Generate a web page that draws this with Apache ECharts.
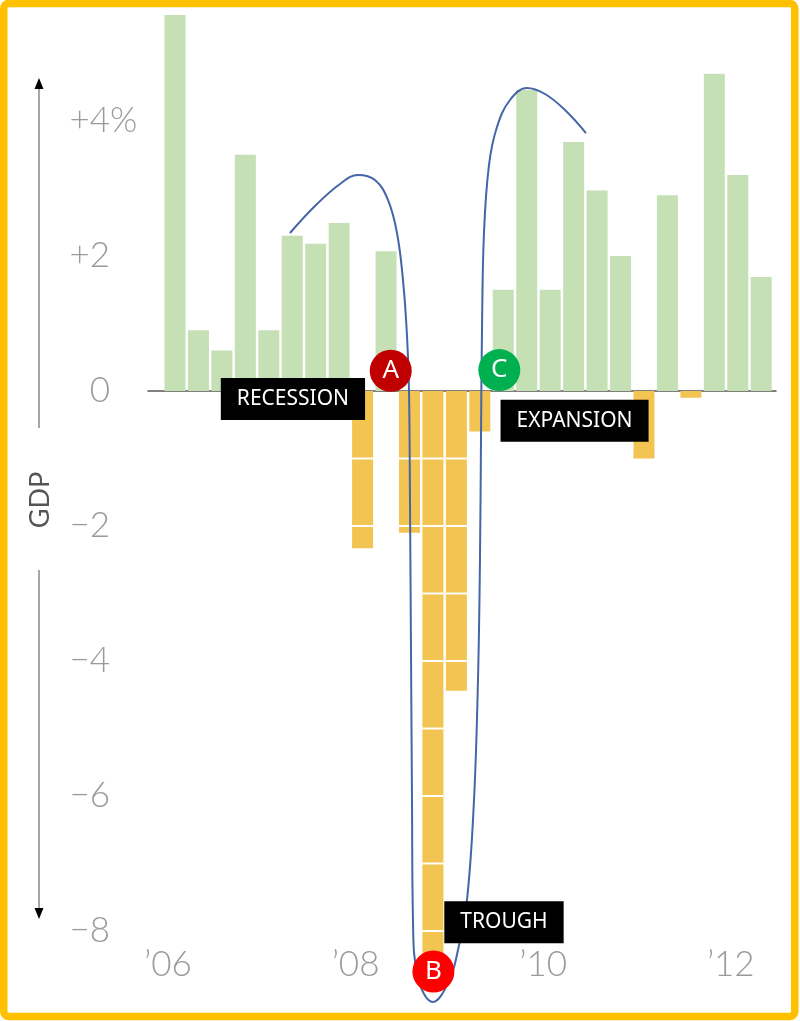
<!DOCTYPE html>
<html>
<head>
<meta charset="utf-8">
<title>GDP</title>
<script src="https://cdn.jsdelivr.net/npm/echarts@6/dist/echarts.min.js"></script>
<style>
    html, body { margin: 0; padding: 0; background: #fff; }
    #gdp_chart { width: 800px; height: 1021px; }
</style>
</head>
<body>
<div id="gdp_chart"></div>
<script>
// quarterly GDP change, 2006 Q1 .. 2012 Q2 (annualised %)
var gdpValues = [5.57, 0.9, 0.6, 3.5, 0.9, 2.3, 2.18, 2.49, -2.33, 2.07, -2.1, -8.4, -4.44,
    -0.6, 1.5, 4.46, 1.5, 3.69, 2.97, 2.0, -1.0, 2.9, -0.1, 4.7, 3.2, 1.69];
// year labels sit on these quarter indexes
var yearIndex = [0, 8, 16, 24];
var yearLabels = ['\u201906', '\u201908', '\u201910', '\u201912'];
var yTicks = [-8, -6, -4, -2, 0, 2, 4];

// hand drawn loop: x in quarter index, y in %
var loopX = [4.904, 5.97, 7.036, 7.804, 8.529, 9.083, 9.467, 9.723, 9.893, 9.979, 10.021, 10.064,
    10.107, 10.149, 10.362, 11.002, 11.684, 12.068, 12.452, 12.751, 12.921, 13.006, 13.049, 13.092,
    13.177, 13.39, 13.731, 14.286, 15.011, 15.778, 16.631, 17.527];
var loopY = [2.341, 2.741, 3.067, 3.2, 3.126, 2.83, 2.341, 1.644, 0.83, 0.015, -1.615, -3.837,
    -6.059, -7.837, -8.696, -9.052, -8.741, -8.281, -7.541, -6.059, -4.281, -2.504, -0.726, 0.904,
    2.341, 3.348, 3.911, 4.311, 4.489, 4.4, 4.163, 3.822];

// circled letters A / B / C
var dotX = [9.2, 11.02, 13.83];
var dotY = [0.3, -8.6, 0.31];
var dotText = ['A', 'B', 'C'];
// black boxes
var tagX = [5.03, 17.04, 14.03];
var tagY = [-0.12, -0.44, -7.87];
var tagText = ['RECESSION', 'EXPANSION', 'TROUGH'];

// tiny stand-in for jQuery's extend, so the file has no other dependency
var $ = {
    extend : function(target) {
        for (var i = 1; i < arguments.length; i++) {
            var src = arguments[i];
            for (var k in src) {
                target[k] = src[k];
            }
        }
        return target;
    }
};

var gdp_chart = {
    chart : null,
    init : function() {
        this.chart = echarts.init(document.getElementById('gdp_chart'), null, { renderer : 'canvas' });
        this.chart.setOption(this.getOption());
    },
    pairs : function(xs, ys) {
        var out = [];
        for (var i = 0; i < xs.length; i++) {
            out.push([xs[i], ys[i]]);
        }
        return out;
    },
    // white cuts at every whole percent on the negative bars
    renderCuts : function(params, api) {
        var i = api.value(0);
        var v = api.value(1);
        var children = [];
        for (var k = -1; k > v + 0.05; k--) {
            var p = api.coord([i, k]);
            children.push({
                type : 'line',
                shape : { x1 : p[0] - 10.5, y1 : p[1], x2 : p[0] + 10.5, y2 : p[1] },
                style : { stroke : '#fff', lineWidth : 2 }
            });
        }
        return { type : 'group', children : children };
    },
    getOption : function() {
        var barData = [];
        for (var i = 0; i < gdpValues.length; i++) {
            barData.push([i, gdpValues[i]]);
        }
        var dotColors = ['#C00000', '#FF0000', '#00B050'];
        var dotData = [];
        for (var d = 0; d < dotX.length; d++) {
            dotData.push({ value : [dotX[d], dotY[d]], name : dotText[d], itemStyle : { color : dotColors[d], opacity : 1 } });
        }
        var tagData = [];
        for (var t = 0; t < tagX.length; t++) {
            tagData.push({ value : [tagX[t], tagY[t]], name : tagText[t] });
        }
        var labelFont = {
            fontFamily : 'Lato',
            fontWeight : 300,
            fontSize : 35,
            color : '#9a9a9a'
        };
        var xMin = -1.151, xMax = 25.63;
        var yMin = -9.2, yMax = 5.6;
        var hidden = {
            axisLine : { show : false },
            axisTick : { show : false },
            splitLine : { show : false }
        };
        return {
            animation : false,
            backgroundColor : '#fff',
            grid : { left : 148, right : 24, top : 13, bottom : 9 },
            xAxis : [ {
                type : 'value',
                min : xMin,
                max : xMax,
                position : 'top',
                axisLine : { show : true, onZero : true, lineStyle : { color : '#555', width : 1.5 } },
                axisTick : { show : false },
                axisLabel : { show : false },
                splitLine : { show : false }
            }, $.extend({
                type : 'value',
                min : xMin,
                max : xMax,
                position : 'bottom',
                axisLabel : $.extend({}, labelFont, {
                    customValues : yearIndex,
                    margin : -47,
                    verticalAlign : 'middle',
                    padding : [ 0, 14, 0, 0 ],
                    formatter : function(v) {
                        var k = yearIndex.indexOf(v);
                        return k < 0 ? '' : yearLabels[k];
                    }
                })
            }, hidden, { axisLine : { show : false, onZero : false } }) ],
            yAxis : [ $.extend({
                type : 'value',
                min : yMin,
                max : yMax,
                position : 'left',
                axisLabel : $.extend({}, labelFont, {
                    customValues : yTicks,
                    margin : 38,
                    formatter : function(v) {
                        if (v > 0) {
                            return '+' + v;
                        }
                        if (v < 0) {
                            return '\u2212' + Math.abs(v);
                        }
                        return '0';
                    }
                })
            }, hidden), $.extend({
                // the % sign hangs past the right edge of the +4 label
                type : 'value',
                min : yMin,
                max : yMax,
                position : 'left',
                axisLabel : $.extend({}, labelFont, {
                    customValues : [ yTicks[yTicks.length - 1] ],
                    margin : 38,
                    align : 'left',
                    formatter : function() {
                        return '%';
                    }
                })
            }, hidden) ],
            series : [ {
                name : 'GDP',
                type : 'bar',
                xAxisIndex : 0,
                barWidth : 21,
                z : 2,
                data : barData,
                itemStyle : {
                    color : function(p) {
                        return p.value[1] < 0 ? '#F2C451' : '#C5E0B4';
                    }
                }
            }, {
                name : 'cuts',
                type : 'custom',
                xAxisIndex : 0,
                z : 3,
                silent : true,
                renderItem : gdp_chart.renderCuts,
                data : barData
            }, {
                name : 'loop',
                type : 'line',
                xAxisIndex : 0,
                z : 4,
                smooth : 0.4,
                symbol : 'none',
                clip : false,
                lineStyle : { color : '#4466A6', width : 2 },
                data : gdp_chart.pairs(loopX, loopY)
            }, {
                name : 'tags',
                type : 'scatter',
                xAxisIndex : 0,
                z : 6,
                symbolSize : 0,
                itemStyle : { opacity : 1 },
                data : tagData,
                label : {
                    show : true,
                    position : 'inside',
                    formatter : '{b}',
                    fontFamily : 'Noto Sans',
                    fontSize : 21,
                    color : '#fff',
                    backgroundColor : '#000',
                    padding : [ 11, 16, 10, 16 ]
                }
            }, {
                name : 'dots',
                type : 'scatter',
                xAxisIndex : 0,
                z : 5,
                symbol : 'circle',
                symbolSize : 42,
                itemStyle : { opacity : 1 },
                data : dotData,
                label : {
                    show : true,
                    position : 'inside',
                    formatter : '{b}',
                    fontFamily : 'Noto Sans',
                    fontSize : 26,
                    color : '#fff'
                }
            } ],
            graphic : [ {
                type : 'rect',
                z : 50,
                silent : true,
                shape : { x : 3.75, y : 3.5, width : 791, height : 1013, r : 5 },
                style : { fill : 'none', stroke : '#FFC000', lineWidth : 7.5 }
            }, {
                type : 'line',
                shape : { x1 : 39, y1 : 86, x2 : 39, y2 : 428 },
                style : { stroke : '#888', lineWidth : 1.5 }
            }, {
                type : 'polygon',
                shape : { points : [ [ 39, 78 ], [ 34.5, 89 ], [ 43.5, 89 ] ] },
                style : { fill : '#000' }
            }, {
                type : 'text',
                x : 40,
                y : 500,
                rotation : Math.PI / 2,
                style : {
                    text : 'GDP',
                    fontFamily : 'Lato',
                    fontSize : 27,
                    fill : '#555',
                    align : 'center',
                    verticalAlign : 'middle'
                }
            }, {
                type : 'line',
                shape : { x1 : 39, y1 : 570, x2 : 39, y2 : 910 },
                style : { stroke : '#888', lineWidth : 1.5 }
            }, {
                type : 'polygon',
                shape : { points : [ [ 39, 919 ], [ 34.5, 908 ], [ 43.5, 908 ] ] },
                style : { fill : '#000' }
            } ]
        };
    }
};

gdp_chart.init();
</script>
</body>
</html>
